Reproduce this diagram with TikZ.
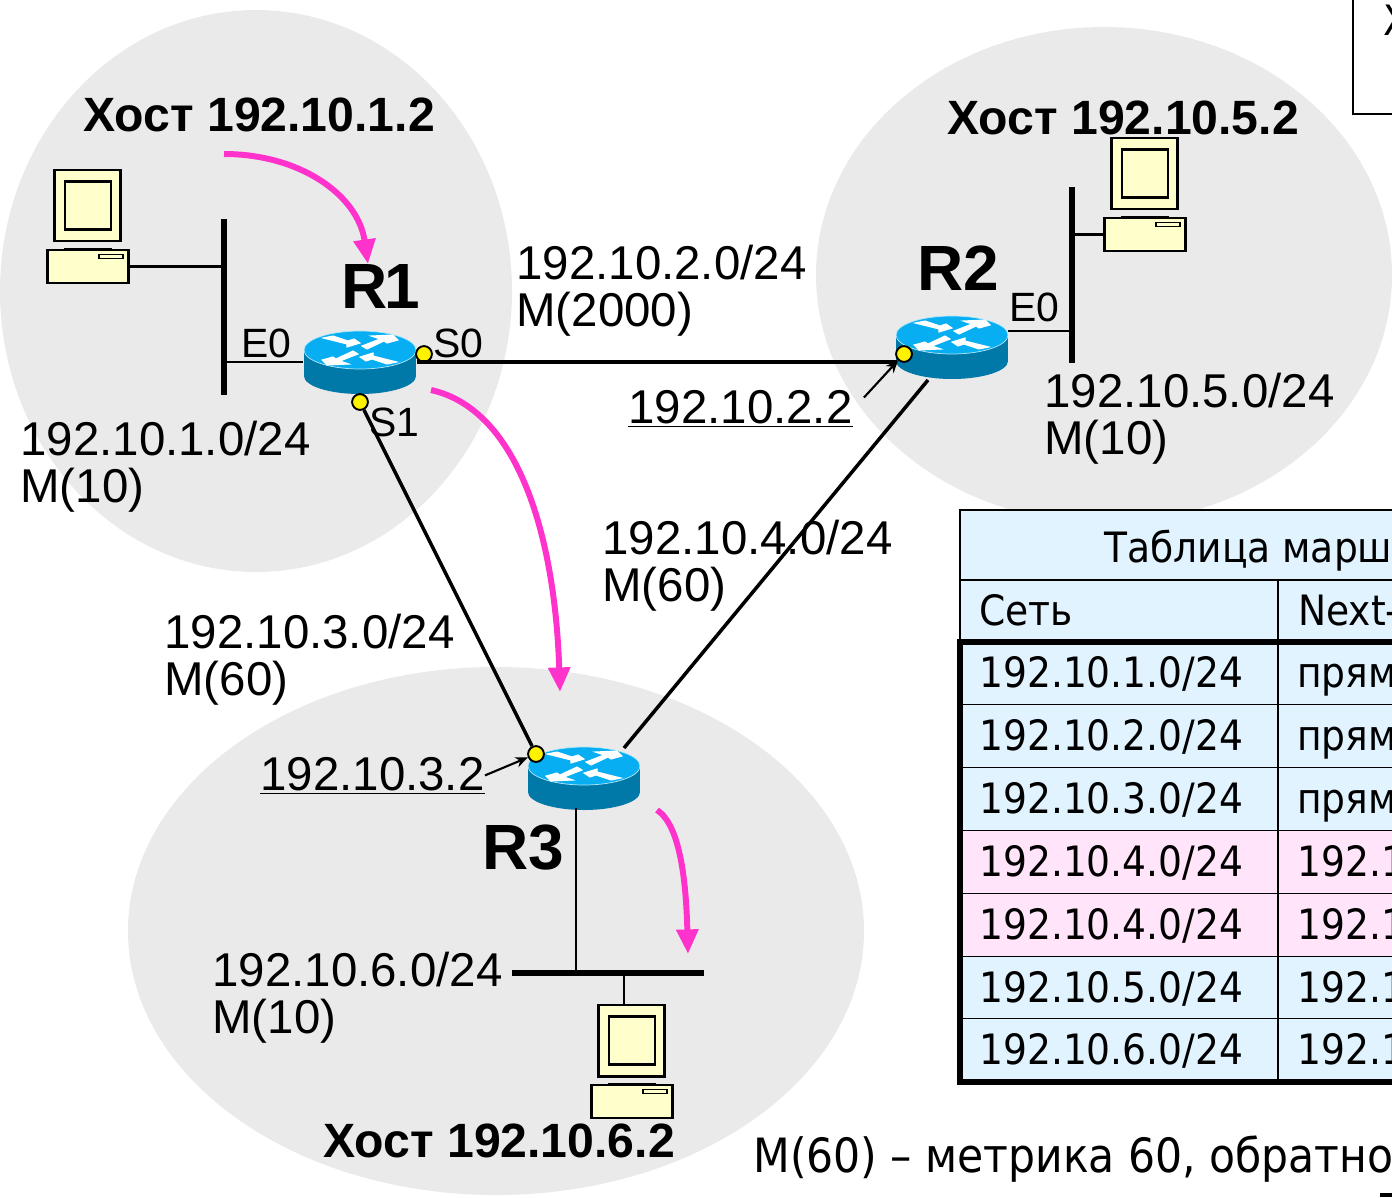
\documentclass[tikz,border=0pt]{standalone}
\usepackage{fontspec}
\setmainfont{Liberation Sans}
\newfontfamily\tabfont{DejaVu Sans Condensed}
\usetikzlibrary{arrows.meta}

\definecolor{zonegray}{HTML}{EAEAEA}
\definecolor{rowblue}{HTML}{E1F3FF}
\definecolor{rowpink}{HTML}{FFE4FA}
\definecolor{routertop}{HTML}{08AEF2}
\definecolor{routerside}{HTML}{0079A8}
\definecolor{hostcream}{HTML}{FFFFCC}
\definecolor{flowpink}{HTML}{FF33CC}

\tikzset{
    x = 0.02cm, y = -0.02cm,
    zone/.style = {fill = zonegray},
    label/.style = {anchor = base west, inner sep = 0pt, align = left, font = \fontsize{27}{26.4}\selectfont},
    port/.style = {anchor = base west, inner sep = 0pt, font = \fontsize{23.3}{26}\selectfont},
    hostname/.style = {anchor = base west, inner sep = 0pt, font = \fontsize{27.4}{32}\selectfont\bfseries},
    routername/.style = {anchor = base west, inner sep = 0pt, font = \fontsize{36.4}{40}\selectfont\bfseries},
    cell/.style = {anchor = base west, inner sep = 0pt, font = \fontsize{23.8}{28}\selectfont\tabfont},
    note/.style = {anchor = base west, inner sep = 0pt, font = \fontsize{26.9}{30}\selectfont\tabfont},
    dot/.style = {circle, draw, fill = yellow, line width = 1.1pt, minimum size = 9pt, inner sep = 0pt},
    bar/.style = {fill = black, inner sep = 0pt},
    wire/.style = {line width = 1.2pt},
    link/.style = {line width = 2pt},
    flow/.style = {flowpink, line width = 3.4pt, -{Triangle[length = 14pt, width = 12pt]}},
    hostpart/.style = {draw, line width = 1.2pt, fill = hostcream, inner sep = 0pt},
    router/.pic = {
        \node[minimum width = 64pt, minimum height = 36pt, inner sep = 0pt] (body) at (0, 0) {};
        \fill[routerside] (0, 14) ellipse [x radius = 56, y radius = 18];
        \fill[routerside] (-56, -12) rectangle (56, 14);
        \fill[routertop, draw = white!70!routertop, line width = 0.4pt] (0, -12) ellipse [x radius = 56, y radius = 19];
        \foreach \a in {0, 180} {
            \filldraw[white, line width = 0.6pt, rotate around = {\a:(0, -12)}] (-37, -24) -- (-27, -26) -- (-12, -21) -- (-6, -23) -- (0, -19) -- (-13, -15) -- (-13, -18) -- cycle;
            \filldraw[white, line width = 0.6pt, rotate around = {\a:(0, -12)}] (2, -16) -- (20, -23) -- (11, -26) -- (33, -27) -- (38, -22) -- (27, -19) -- (24, -21) -- (7, -13) -- cycle;
        }
    },
    host/.pic = {
        \draw[hostpart] (-23, -17) rectangle (23, 0);
        \node[hostpart, minimum width = 46.1pt, minimum height = 18.8pt] (base) at (0, 0) {};
        \node[hostpart, minimum width = 37.6pt, minimum height = 40.9pt] (case) at (-0.5, -61) {};
        \draw[hostpart] (-23, -85) rectangle (23, -37);
        \draw[line width = 0.9pt, fill = hostcream] (11, -12) rectangle (35, -8);
    }
}

\begin{document}
\begin{tikzpicture}
    \useasboundingbox (0, 0) rectangle (1392, 1197);
    \clip (0, 0) rectangle (1392, 1197);

    \fill[zone] (256, 291) ellipse [x radius = 256, y radius = 281];
    \fill[zone] (1104, 275) ellipse [x radius = 288, y radius = 248];
    \fill[zone] (496, 931) ellipse [x radius = 368, y radius = 264];

    \draw[line width = 1.2pt] (1353, -5) |- (1400, 114);
    \node[cell] (cutmark) at (1383, 35) {Х};

    \fill[rowblue] (960, 510) rectangle (1400, 642);
    \draw[line width = 1.1pt] (960, 642) |- (1400, 510);
    \draw[line width = 1.1pt] (960, 580) -- (1400, 580);
    \draw[line width = 1.1pt] (1278, 580) -- (1278, 642);
    \node[cell] (tabletitle) at (1104, 562) {Таблица маршр};
    \node[cell] (headnet) at (979, 625) {Сеть};
    \node[cell] (headhop) at (1298, 625) {Next-};

    \foreach \i/\net/\hop/\shade in {0/1/прям/rowblue, 1/2/прям/rowblue, 2/3/прям/rowblue, 3/4/192.1/rowpink, 4/4/192.1/rowpink, 5/5/192.1/rowblue, 6/6/192.1/rowblue} {
        \fill[\shade] (960, 642 + 62.9 * \i) rectangle (1400, 642 + 62.9 * \i + 62.9);
        \draw[line width = 1.1pt] (960, 642 + 62.9 * \i + 62.9) -- (1400, 642 + 62.9 * \i + 62.9);
        \node[cell] (net\i) at (979, 687.5 + 62.9 * \i) {192.10.\net.0/24};
        \node[cell] (hop\i) at (1297, 687.5 + 62.9 * \i) {\hop};
    }
    \draw[line width = 1.1pt] (1278, 642) -- (1278, 1082);
    \draw[line width = 3pt] (1400, 642) -| (960, 1082) -- (1400, 1082);

    \node[note] (footnote) at (753, 1172) {М(60) – метрика 60, обратно};
    \fill (1380, 1193) rectangle (1392, 1197);

    \node[bar, minimum width = 3.4pt, minimum height = 100pt] (bar1) at (224, 307) {};
    \node[bar, minimum width = 3.4pt, minimum height = 100pt] (bar2) at (1072, 275) {};
    \node[bar, minimum width = 109pt, minimum height = 3.4pt] (bar3) at (608, 973) {};

    \pic (host1) at (88, 266.5) {host};
    \pic (host2) at (1145, 234.5) {host};
    \pic (host3) at (632, 1101.5) {host};

    \pic (r1) at (360, 362) {router};
    \pic (r2) at (952, 347) {router};
    \pic (r3) at (584, 778) {router};

    \coordinate (r2wire) at (1008, 331);
    \coordinate (r3wire) at (576, 808);
    \coordinate (r2link) at (897, 362);
    \coordinate (r2down) at (928, 380);
    \coordinate (r3up) at (624, 748);
    \coordinate (host3wire) at (624, 1005);

    \node[dot] (s0) at (424, 354) {};
    \node[dot] (s1) at (360, 402) {};
    \node[dot] (r2addr) at (904, 354) {};
    \node[dot] (r3addr) at (536, 754) {};

    \draw[wire] (host1base.east) -- (host1base.east -| bar1);
    \draw[wire] (r1body.west) -- (r1body.west -| bar1);
    \draw[wire] (r2wire) -- (r2wire -| bar2);
    \draw[wire] (host2base.west) -- (host2base.west -| bar2);
    \draw[wire] (r3wire) -- (r3wire |- bar3);
    \draw[wire] (host3wire) -- (host3wire |- bar3);

    \draw[line width = 2.3pt] (r1body.east) -- (r2link);
    \draw[link] (s1) -- (r3addr);
    \draw[link] (r2down) -- (r3up);

    \node[label] (net1) at (20, 502) {192.10.1.0/24\\М(10)};
    \node[label] (net2) at (516, 326) {192.10.2.0/24\\М(2000)};
    \node[label] (net3) at (164, 695) {192.10.3.0/24\\М(60)};
    \node[label] (net4) at (602, 601) {192.10.4.0/24\\М(60)};
    \node[label] (net5) at (1044, 454) {192.10.5.0/24\\М(10)};
    \node[label] (net6) at (212, 1033) {192.10.6.0/24\\М(10)};

    \node[label] (addr2) at (628, 423) {\underline{192.10.2.2}};
    \node[label] (addr3) at (260, 790) {\underline{192.10.3.2}};
    \draw[-{Stealth[length = 7pt, width = 6pt]}, wire] (addr2.north east) ++ (11, 8) -- (r2addr);
    \draw[-{Stealth[length = 7pt, width = 6pt]}, wire] (addr3.east) -- (r3addr);

    \node[port] (e0a) at (241, 357) {E0};
    \node[port] (s0a) at (433, 357) {S0};
    \node[port] (s1a) at (369, 436) {S1};
    \node[port] (e0b) at (1009, 321) {E0};

    \node[routername] (r1name) at (341, 308) {R\kern-1.5pt 1};
    \node[routername] (r2name) at (917, 290) {R2};
    \node[routername] (r3name) at (482, 869) {R3};

    \node[hostname] (host1name) at (83, 131) {Хост 192.10.1.2};
    \node[hostname] (host2name) at (947, 134) {Хост 192.10.5.2};
    \node[hostname] (host3name) at (323, 1157) {Хост 192.10.6.2};

    \coordinate (flow1a) at (224, 154);
    \coordinate (flow1b) at (368, 264);
    \coordinate (flow2a) at (431, 390);
    \coordinate (flow2b) at (560, 692);
    \coordinate (flow3a) at (657, 810);
    \coordinate (flow3b) at (688, 954);
    \draw[flow] (flow1a) .. controls (300, 154) and (358, 195) .. (flow1b);
    \draw[flow] (flow2a) .. controls (520, 410) and (555, 540) .. (flow2b);
    \draw[flow] (flow3a) .. controls (680, 825) and (686, 880) .. (flow3b);
\end{tikzpicture}
\end{document}
